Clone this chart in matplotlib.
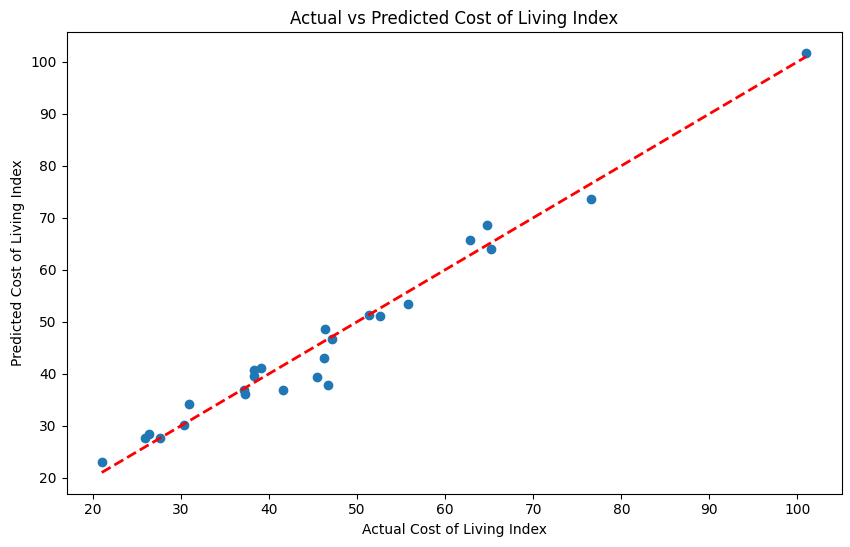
import matplotlib
matplotlib.use("Agg")
import matplotlib.pyplot as plt
import numpy as np

actual = [21.0, 25.95, 26.4, 27.65, 30.3, 30.95, 37.1, 37.3, 38.3, 39.1, 38.3,
          41.6, 45.4, 46.2, 46.7, 46.4, 47.1, 51.3, 52.65, 55.8,
          62.8, 64.8, 65.15, 76.6, 101.0]
predicted = [23.1, 27.6, 28.4, 27.6, 30.2, 34.1, 36.9, 36.2, 40.7, 41.1, 39.5,
             36.9, 39.4, 43.1, 37.8, 48.6, 46.6, 51.3, 51.1, 53.5,
             65.7, 68.6, 63.9, 73.7, 101.7]

fig = plt.figure(figsize=(8.5, 5.47), dpi=100)
ax = fig.add_axes([66.5/850, 53.5/547, 775/850, 461.5/547])
ax.scatter(actual, predicted)
lo, hi = min(actual), max(actual)
ax.plot([lo, hi], [lo, hi], 'r--', lw=2)
ax.set_xlabel('Actual Cost of Living Index')
ax.set_ylabel('Predicted Cost of Living Index')
ax.set_title('Actual vs Predicted Cost of Living Index')
fig.savefig('out.png', dpi=100)
